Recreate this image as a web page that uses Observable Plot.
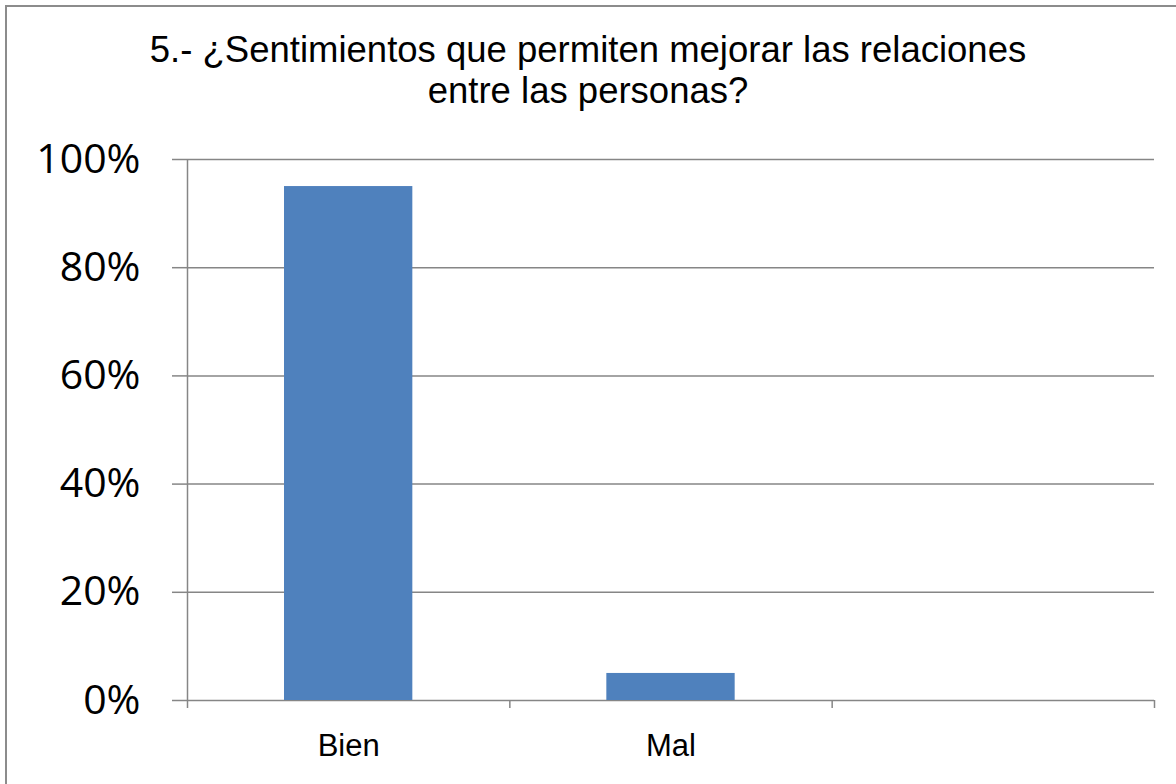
<!DOCTYPE html>
<html><head><meta charset="utf-8">
<script src="https://cdn.jsdelivr.net/npm/d3@7"></script>
<script src="https://cdn.jsdelivr.net/npm/@observablehq/plot@0.6"></script>
<style>
body{margin:0;background:#fff;}
#wrap{position:relative;width:1176px;height:784px;overflow:hidden;background:#fff;}
#frame{position:absolute;left:5px;top:5px;width:1220px;height:820px;border:2px solid #8c8c8c;box-sizing:border-box;}
#title{position:absolute;left:0;top:29px;width:1176px;text-align:center;font-family:"Liberation Sans",Arial,sans-serif;font-size:36.5px;line-height:41px;color:#000;z-index:2;}
#chart{position:absolute;left:0;top:0;}
</style>
</head><body>
<div id="wrap"><div id="frame"></div><div id="chart"></div>
<div id="title">5.- ¿Sentimientos que permiten mejorar las relaciones<br>entre las personas?</div></div>
<script>
const categories = ["Bien", "Mal", ""];
const values = [0.95, 0.05, null];
const yTicks = [0, 0.2, 0.4, 0.6, 0.8, 1.0];
const slotEdges = [0, 1, 2, 3];

const data = categories.map((c, i) => ({cat: c, i, v: values[i]}));
const gray = "#868686";

const chart = Plot.plot({
  width: 1176,
  height: 784,
  marginLeft: 187,
  marginRight: 22,
  marginTop: 159,
  marginBottom: 84,
  style: {background: "transparent", overflow: "visible"},
  x: {type: "linear", domain: [0, 3], axis: null},
  y: {domain: [0, 1], axis: null},
  marks: [
    Plot.ruleY(yTicks, {x1: 0, x2: 3, stroke: gray, strokeWidth: 1.5}),
    Plot.axisY(yTicks, {tickSize: 15, stroke: gray, strokeWidth: 1.5, tickPadding: 32, label: null,
      tickFormat: d3.format(".0%"), fill: "#000", fontSize: 41, fontFamily: "'Open Sans', sans-serif"}),
    Plot.axisX(slotEdges, {tickSize: 8, stroke: gray, strokeWidth: 1.5, tickFormat: () => "", label: null}),
    Plot.ruleX([0], {y1: 0, y2: 1, stroke: gray, strokeWidth: 1.5}),
    Plot.rectY(data.filter(d => d.v != null), {x1: d => d.i, x2: d => d.i + 1, y: "v",
      insetLeft: 97, insetRight: 97, fill: "#4F81BD"}),
    Plot.text(data, {x: d => d.i + 0.5, y: () => 0, text: "cat", dy: 46,
      fontSize: 31, fontFamily: "'Liberation Sans', Arial, sans-serif", fill: "#000"})
  ]
});
document.getElementById("chart").appendChild(chart);
</script>
</body></html>
